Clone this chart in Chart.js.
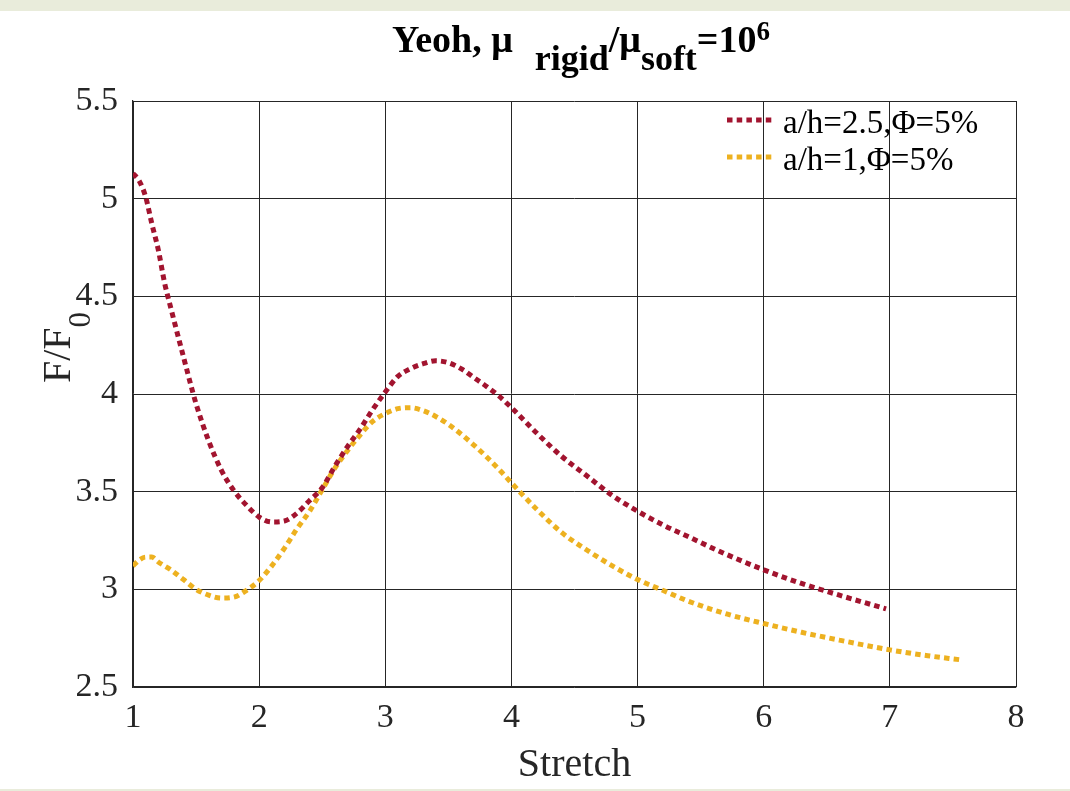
<!DOCTYPE html>
<html>
<head>
<meta charset="utf-8">
<title>Yeoh stretch response</title>
<script src="https://cdn.jsdelivr.net/npm/chart.js@4"></script>
<style>
  html, body { margin: 0; padding: 0; background: #ffffff; }
  #wrap { position: relative; width: 1070px; height: 791px; overflow: hidden; }
  .band { position: absolute; left: 0; width: 1070px; background: #e9ecdb; }
  #myChart { position: absolute; left: 0; top: 0; }
</style>
</head>
<body>
<div id="wrap">
  <canvas id="myChart" width="1070" height="791"></canvas>
  <div class="band" style="top:0;height:11px"></div>
  <div class="band" style="top:789px;height:2px"></div>
</div>
<script>
// a/h = 2.5, Phi = 5%
const stretchA = [1.00, 1.05, 1.10, 1.15, 1.20, 1.25, 1.30, 1.40, 1.50, 1.60, 1.70, 1.80, 1.90,
  2.00, 2.10, 2.20, 2.30, 2.40, 2.50, 2.60, 2.70, 2.80, 2.90, 3.00, 3.10, 3.20, 3.30, 3.40,
  3.50, 3.60, 3.70, 3.80, 3.90, 4.00, 4.20, 4.40, 4.60, 4.80, 5.00, 5.20, 5.40, 5.70, 6.00,
  6.30, 6.60, 6.97];
const forceA = [5.13, 5.09, 5.01, 4.87, 4.74, 4.57, 4.44, 4.19, 3.95, 3.76, 3.61, 3.505, 3.43,
  3.37, 3.345, 3.35, 3.39, 3.455, 3.52, 3.63, 3.73, 3.82, 3.92, 4.01, 4.09, 4.13, 4.155, 4.17,
  4.16, 4.13, 4.085, 4.04, 3.99, 3.93, 3.80, 3.68, 3.58, 3.48, 3.40, 3.33, 3.27, 3.18, 3.10,
  3.03, 2.97, 2.90];

// a/h = 1, Phi = 5%
const stretchB = [1.00, 1.05, 1.10, 1.15, 1.20, 1.30, 1.40, 1.50, 1.60, 1.70, 1.80, 1.90,
  2.00, 2.10, 2.20, 2.30, 2.40, 2.50, 2.60, 2.70, 2.80, 2.90, 3.00, 3.10, 3.20, 3.30, 3.40,
  3.50, 3.60, 3.70, 3.80, 3.90, 4.00, 4.20, 4.40, 4.60, 4.80, 5.00, 5.20, 5.40, 5.70, 6.00,
  6.30, 6.60, 7.00, 7.30, 7.55];
const forceB = [3.12, 3.15, 3.165, 3.165, 3.14, 3.10, 3.05, 3.00, 2.97, 2.955, 2.96, 2.995,
  3.045, 3.12, 3.21, 3.31, 3.40, 3.51, 3.62, 3.71, 3.79, 3.86, 3.90, 3.925, 3.93, 3.915, 3.885,
  3.845, 3.795, 3.74, 3.68, 3.615, 3.545, 3.41, 3.29, 3.20, 3.12, 3.05, 2.995, 2.94, 2.875, 2.825,
  2.78, 2.74, 2.69, 2.66, 2.64];

const seriesLabels = ["a/h=2.5,\u03A6=5%", "a/h=1,\u03A6=5%"];
const seriesColors = ["#A2142F", "#EDB120"];
const xTicks = [1, 2, 3, 4, 5, 6, 7, 8];
const yTicks = [2.5, 3, 3.5, 4, 4.5, 5, 5.5];

const serif = "'Liberation Serif', 'Times New Roman', serif";
const gridColor = "#262626";

function toPoints(xs, ys) {
  return xs.map((x, i) => ({ x: x, y: ys[i] }));
}

function dotted(label, color, xs, ys) {
  return {
    label: label,
    data: toPoints(xs, ys),
    borderColor: color,
    backgroundColor: color,
    borderWidth: 5,
    borderDash: [5.5, 4.2],
    borderCapStyle: "butt",
    pointRadius: 0,
    fill: false,
    cubicInterpolationMode: "monotone",
  };
}

// draws runs of text with sub/superscripts, left to right
function drawRuns(ctx, runs, x, y) {
  runs.forEach((r) => {
    ctx.font = r.font;
    ctx.fillText(r.text, x, y + (r.dy || 0));
    x += ctx.measureText(r.text).width + (r.gap || 0);
  });
}

const decorations = {
  id: "decorations",
  afterDraw(chart) {
    const ctx = chart.ctx;
    ctx.save();
    ctx.fillStyle = "#000000";
    ctx.textBaseline = "alphabetic";
    ctx.textAlign = "left";

    // title
    const tb = "bold 38px " + serif;
    const ts = "bold 36px " + serif;
    const tp = "bold 27px " + serif;
    drawRuns(ctx, [
      { text: "Yeoh, \u03BC", font: tb, gap: 22 },
      { text: "rigid", font: ts, dy: 18 },
      { text: "/\u03BC", font: tb },
      { text: "soft", font: ts, dy: 18 },
      { text: "=10", font: tb },
      { text: "6", font: tp, dy: -12 },
    ], 392, 52);

    // y axis title
    ctx.fillStyle = "#262626";
    ctx.save();
    ctx.translate(70, 383);
    ctx.rotate(-Math.PI / 2);
    drawRuns(ctx, [
      { text: "F/F", font: "40px " + serif },
      { text: "0", font: "31px " + serif, dy: 20 },
    ], 0, 0);
    ctx.restore();

    // legend, no box, top right inside the axes
    ctx.textBaseline = "middle";
    ctx.font = "33px " + serif;
    chart.data.datasets.forEach((ds, i) => {
      const y = 120 + i * 37;
      ctx.save();
      ctx.strokeStyle = ds.borderColor;
      ctx.lineWidth = ds.borderWidth;
      ctx.setLineDash(ds.borderDash);
      ctx.beginPath();
      ctx.moveTo(727, y);
      ctx.lineTo(774, y);
      ctx.stroke();
      ctx.restore();
      ctx.fillStyle = "#000000";
      ctx.fillText(ds.label, 783, y + 4);
    });
    ctx.restore();
  },
};

const ctx = document.getElementById("myChart").getContext("2d");
const myChart = new Chart(ctx, {
  type: "line",
  data: {
    datasets: [
      dotted(seriesLabels[0], seriesColors[0], stretchA, forceA),
      dotted(seriesLabels[1], seriesColors[1], stretchB, forceB),
    ],
  },
  options: {
    responsive: false,
    animation: false,
    layout: { padding: { top: 101, right: 54, left: 0, bottom: 0 } },
    plugins: {
      legend: { display: false },
      title: { display: false },
      tooltip: { enabled: false },
    },
    scales: {
      x: {
        type: "linear",
        min: 1,
        max: 8,
        afterFit: (s) => { s.height = 104; },
        afterBuildTicks: (s) => { s.ticks = xTicks.map((v) => ({ value: v })); },
        grid: { color: gridColor, lineWidth: 1, drawTicks: false },
        border: { color: gridColor, width: 1.2 },
        ticks: {
          color: "#262626",
          padding: 11,
          font: { family: serif, size: 34 },
          maxRotation: 0,
          callback: (v) => String(v),
        },
        title: {
          display: true,
          text: "Stretch",
          color: "#262626",
          font: { family: serif, size: 40 },
          padding: { top: 0, bottom: 2 },
        },
      },
      y: {
        min: 2.5,
        max: 5.5,
        afterFit: (s) => { s.width = 133; },
        afterBuildTicks: (s) => { s.ticks = yTicks.map((v) => ({ value: v })); },
        grid: { color: gridColor, lineWidth: 1, drawTicks: false },
        border: { color: gridColor, width: 1.2 },
        ticks: {
          color: "#262626",
          padding: 15,
          font: { family: serif, size: 34 },
          callback: (v) => String(v),
        },
      },
    },
  },
  plugins: [decorations],
});
</script>
</body>
</html>
